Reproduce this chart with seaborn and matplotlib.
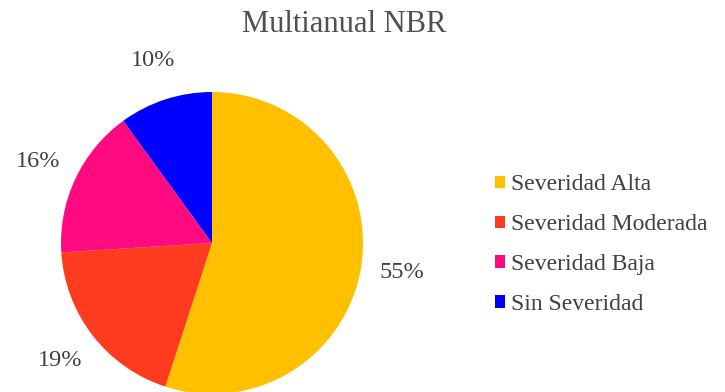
import matplotlib
matplotlib.use("Agg")
import matplotlib.pyplot as plt
import seaborn as sns

# data
categories = ["Severidad Alta", "Severidad Moderada", "Severidad Baja", "Sin Severidad"]
values = [55, 19, 16, 10]
colors = ["#FFC000", "#FF3B1F", "#FF0A80", "#0000FF"]

sns.set_style("white")
plt.rcParams["font.family"] = ["Liberation Serif", "DejaVu Serif"]

fig = plt.figure(figsize=(7.25, 3.92), dpi=100)
fig.patch.set_facecolor("white")

# pie centre around (212, 243) px, radius ~151 px
W, H = 725, 392
cx, cy, r = 212, 243, 151
ax = fig.add_axes([(cx - r) / W, (H - cy - r) / H, 2 * r / W, 2 * r / H])

wedges, texts, autotexts = ax.pie(
    values,
    colors=sns.color_palette(colors),
    startangle=90,
    counterclock=False,
    autopct="%1.0f%%",
    pctdistance=1.27,
    wedgeprops=dict(linewidth=0),
    textprops=dict(fontsize=17.5, color="#404040"),
)
ax.set_xlim(-1, 1)
ax.set_ylim(-1, 1)
ax.set_aspect("equal")
ax.axis("off")

fig.text(344 / W, 1 - 25 / H, "Multianual NBR", ha="center", va="center",
         fontsize=22, color="#505050")

leg = fig.legend(
    wedges, categories,
    loc="upper left",
    bbox_to_anchor=(474 / W, 1 - 153 / H),
    frameon=False,
    fontsize=17,
    handlelength=0.42,
    handleheight=0.42,
    handletextpad=0.25,
    labelspacing=0.8,
    labelcolor="#404040",
)

fig.savefig("out.png", dpi=100, facecolor="white")
